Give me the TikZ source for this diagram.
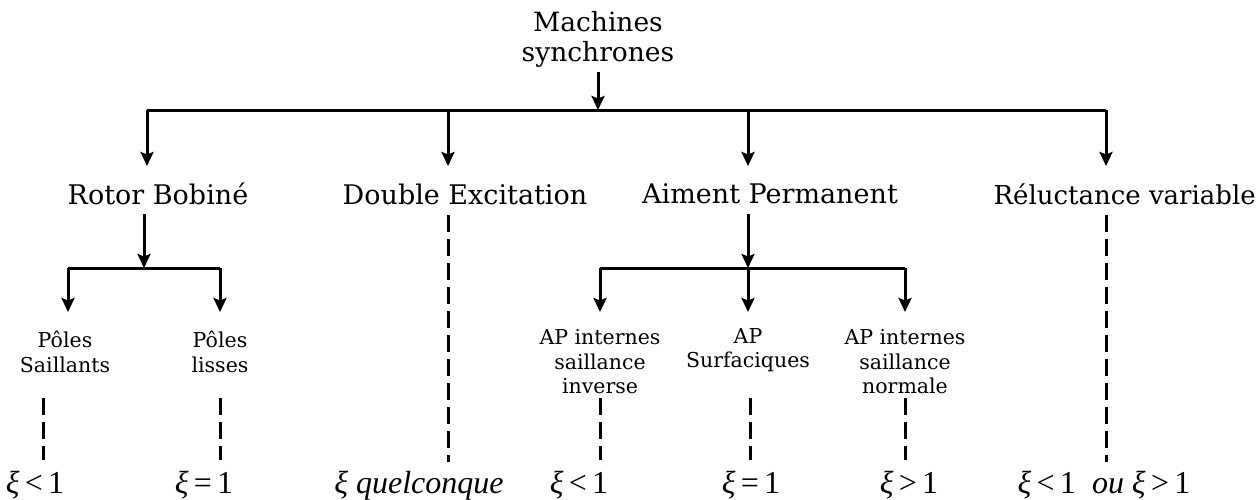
\documentclass[tikz,border=0pt]{standalone}
\usepackage{fontspec}
\setmainfont{DejaVu Serif}
\newfontfamily\mathserif{Liberation Serif}
\usetikzlibrary{arrows.meta}
\tikzset{
  toplbl/.style={font=\fontsize{26.5}{30}\selectfont, align=center, inner sep=0pt},
  lbl/.style={font=\fontsize{27}{30}\selectfont, align=center, inner sep=0pt},
  sml/.style={font=\fontsize{20.5}{24.5}\selectfont, align=center, inner sep=0pt},
  eqn/.style={font=\mathserif\fontsize{32}{34}\selectfont, inner sep=0pt, anchor=base},
  conn/.style={line width=3pt},
  arr/.style={line width=3pt, -{Stealth[length=14pt,width=13pt,inset=2.5pt]}},
  dsh/.style={line width=3pt, dash pattern=on 17pt off 7pt},
}
\newcommand{\xiit}{\textit{ξ}}
\begin{document}
\begin{tikzpicture}[x=1pt,y=-1pt]
\useasboundingbox (0,0) rectangle (1256,499);
% top
\node[toplbl] (top) at (598,39) {Machines\\synchrones};
\coordinate (j0) at (598,110);
\coordinate (h1) at (147,110);
\coordinate (h2) at (448,110);
\coordinate (h3) at (748,110);
\coordinate (h4) at (1106,110);
% level 2
\node[lbl] (rb) at (158,194) {Rotor Bobiné};
\node[lbl] (de) at (465,194) {Double Excitation};
\node[lbl] (ap) at (770,194) {Aiment Permanent};
\node[lbl, font=\fontsize{26}{30}\selectfont, anchor=east] (rv) at (1256,194) {Réluctance variable};
\draw[arr] ([yshift=-5pt]top.south) -- (j0);
\draw[conn] (h1) -- (h4);
\draw[arr] (h1) -- (h1 |- 0,166);
\draw[arr] (h2) -- (h2 |- 0,166);
\draw[arr] (h3) -- (h3 |- 0,166);
\draw[arr] (h4) -- (h4 |- 0,166);
% rotor bobine branch
\coordinate (r0) at (144,268);
\coordinate (r1) at (68,268);
\coordinate (r2) at (220,268);
\draw[arr] (r0 |- 0,214) -- (r0);
\draw[conn] (r1) -- (r2);
\node[sml] (ps) at (65,352) {Pôles\\Saillants};
\node[sml] (pl) at (220,352) {Pôles\\lisses};
\draw[arr] (r1) -- (68,312);
\draw[arr] (r2) -- (220,312);
% aimant branch
\coordinate (a0) at (748,268);
\coordinate (a1) at (600,268);
\coordinate (a3) at (905,268);
\draw[arr] (a0 |- 0,214) -- (a0);
\draw[conn] (a1) -- (a3);
\node[sml] (api) at (600,362) {AP internes\\saillance\\inverse};
\node[sml] (aps) at (748,350) {AP\\Surfaciques};
\node[sml] (apn) at (905,362) {AP internes\\saillance\\normale};
\draw[arr] (a1) -- (600,312);
\draw[arr] (a0) -- (748,312);
\draw[arr] (a3) -- (905,312);
% bottom labels
\node[eqn] (e1) at (35,493) {\xiit\,<\,1};
\node[eqn] (e2) at (204,493) {\xiit\,=\,1};
\node[eqn] (e3) at (419,493) {\xiit\ \textit{quelconque}};
\node[eqn] (e4) at (579,493) {\xiit\,<\,1};
\node[eqn] (e5) at (751,493) {\xiit\,=\,1};
\node[eqn] (e6) at (909,493) {\xiit\,>\,1};
\node[eqn] (e7) at (1104,493) {\xiit\,<\,1\ \ \textit{ou}\ \xiit\,>\,1};
% dashed
\draw[dsh] (43,398) -- (43,460);
\draw[dsh] (220,398) -- (220,460);
\draw[dsh] (448,215) -- (448,462);
\draw[dsh] (600,398) -- (600,460);
\draw[dsh] (750,398) -- (750,460);
\draw[dsh] (905,398) -- (905,460);
\draw[dsh] (1106,215) -- (1106,462);
\end{tikzpicture}
\end{document}
